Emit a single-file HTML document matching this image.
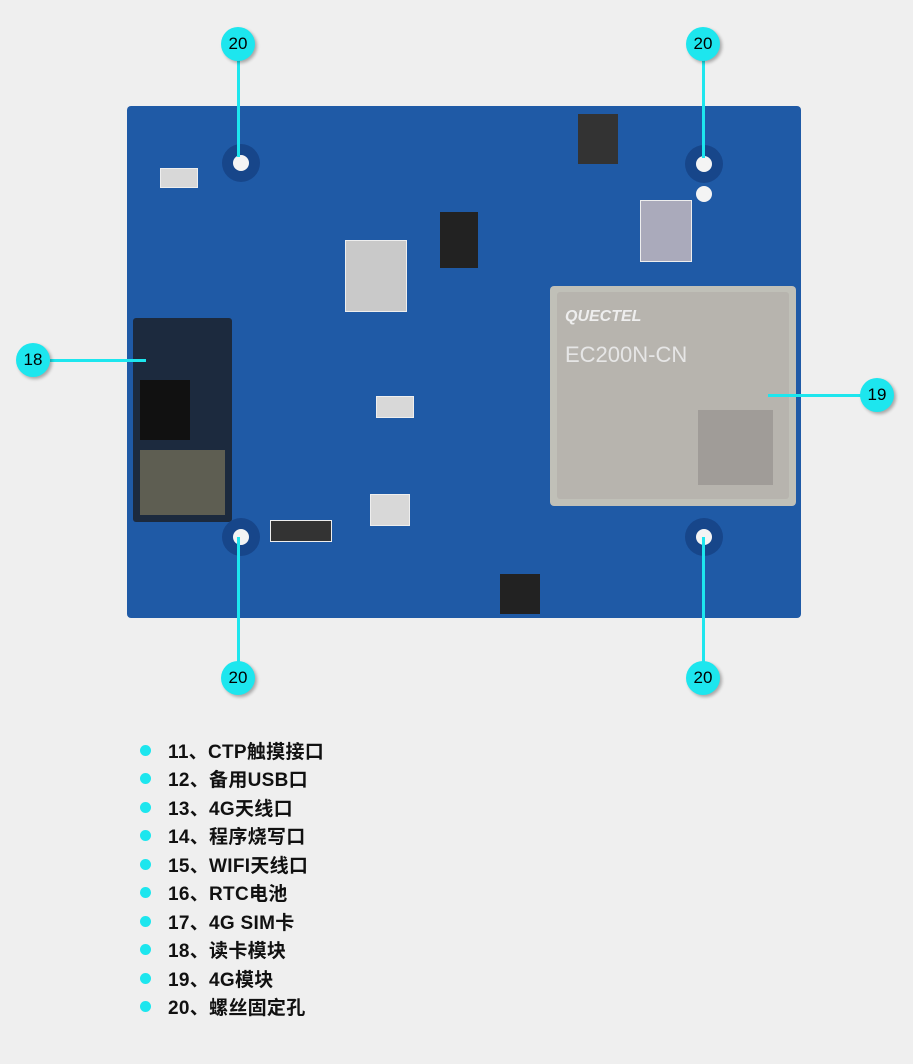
<!DOCTYPE html>
<html><head><meta charset="utf-8"><style>
body{margin:0;width:913px;height:1064px;background:#efefef;position:relative;overflow:hidden;font-family:"Liberation Sans","Noto Sans CJK SC",sans-serif}
.a{position:absolute}
.c{position:absolute;width:34px;height:34px;border-radius:50%;background:#1de6ee;color:#000;font-size:17px;text-align:center;line-height:34px;box-shadow:2px 2px 3px rgba(0,0,0,.3)}
.l{position:absolute;background:#1de6ee}
.hole{position:absolute;width:38px;height:38px;border-radius:50%;background:#17468a}
.hole i{position:absolute;left:11px;top:11px;width:16px;height:16px;border-radius:50%;background:#f4f4f4}
.leg{position:absolute;left:140px;font-size:19px;font-weight:bold;color:#111;letter-spacing:0.3px}
.leg b{display:inline-block;width:11px;height:11px;border-radius:50%;background:#1de6ee;margin-right:17px;vertical-align:2px}
.p{position:absolute;background:#d8d8d8;border:1px solid #eee}
.k{position:absolute;background:#222}
</style></head><body>
<div class="a" style="left:127px;top:106px;width:674px;height:512px;background:#1f5aa6;border-radius:4px"></div>
<div class="k" style="left:440px;top:212px;width:38px;height:56px"></div>
<div class="k" style="left:578px;top:114px;width:40px;height:50px;background:#333"></div>
<div class="k" style="left:500px;top:574px;width:40px;height:40px"></div>
<div class="p" style="left:370px;top:494px;width:38px;height:30px"></div>
<div class="p" style="left:345px;top:240px;width:60px;height:70px;background:#c9c9c9"></div>
<div class="p" style="left:376px;top:396px;width:36px;height:20px"></div>
<div class="p" style="left:640px;top:200px;width:50px;height:60px;background:#aab"></div>
<div class="p" style="left:270px;top:520px;width:60px;height:20px;background:#333"></div>
<div class="p" style="left:160px;top:168px;width:36px;height:18px"></div>
<div class="a" style="left:133px;top:318px;width:99px;height:204px;background:#1c2a3e;border-radius:3px"></div>
<div class="a" style="left:140px;top:380px;width:50px;height:60px;background:#111"></div>
<div class="a" style="left:140px;top:450px;width:85px;height:65px;background:#5e5e52"></div>
<div class="a" style="left:550px;top:286px;width:246px;height:220px;background:#c0c0b8;border-radius:4px"></div>
<div class="a" style="left:557px;top:292px;width:232px;height:207px;background:#b7b4ae;border-radius:3px"></div>
<div class="a" style="left:565px;top:308px;color:#eee;font-size:16px;font-weight:bold;font-style:italic">QUECTEL</div>
<div class="a" style="left:565px;top:342px;color:#e6e6e6;font-size:22px">EC200N-CN</div>
<div class="a" style="left:698px;top:410px;width:75px;height:75px;background:#a09c98"></div>
<div class="hole" style="left:222px;top:144px"><i></i></div>
<div class="hole" style="left:685px;top:145px"><i></i></div>
<div class="hole" style="left:222px;top:518px"><i></i></div>
<div class="hole" style="left:685px;top:518px"><i></i></div>
<div class="a" style="left:696px;top:186px;width:16px;height:16px;border-radius:50%;background:#f4f4f4"></div>
<div class="l" style="left:237px;top:60px;width:3px;height:97px"></div>
<div class="l" style="left:702px;top:60px;width:3px;height:98px"></div>
<div class="l" style="left:237px;top:537px;width:3px;height:126px"></div>
<div class="l" style="left:702px;top:537px;width:3px;height:126px"></div>
<div class="l" style="left:50px;top:359px;width:96px;height:3px"></div>
<div class="l" style="left:768px;top:394px;width:94px;height:3px"></div>
<div class="c" style="left:221px;top:27px">20</div>
<div class="c" style="left:686px;top:27px">20</div>
<div class="c" style="left:16px;top:343px">18</div>
<div class="c" style="left:860px;top:378px">19</div>
<div class="c" style="left:221px;top:661px">20</div>
<div class="c" style="left:686px;top:661px">20</div>
<div class="leg" style="top:737px"><b></b>11、CTP触摸接口</div>
<div class="leg" style="top:765px"><b></b>12、备用USB口</div>
<div class="leg" style="top:794px"><b></b>13、4G天线口</div>
<div class="leg" style="top:822px"><b></b>14、程序烧写口</div>
<div class="leg" style="top:851px"><b></b>15、WIFI天线口</div>
<div class="leg" style="top:879px"><b></b>16、RTC电池</div>
<div class="leg" style="top:908px"><b></b>17、4G SIM卡</div>
<div class="leg" style="top:936px"><b></b>18、读卡模块</div>
<div class="leg" style="top:965px"><b></b>19、4G模块</div>
<div class="leg" style="top:993px"><b></b>20、螺丝固定孔</div>
</body></html>
